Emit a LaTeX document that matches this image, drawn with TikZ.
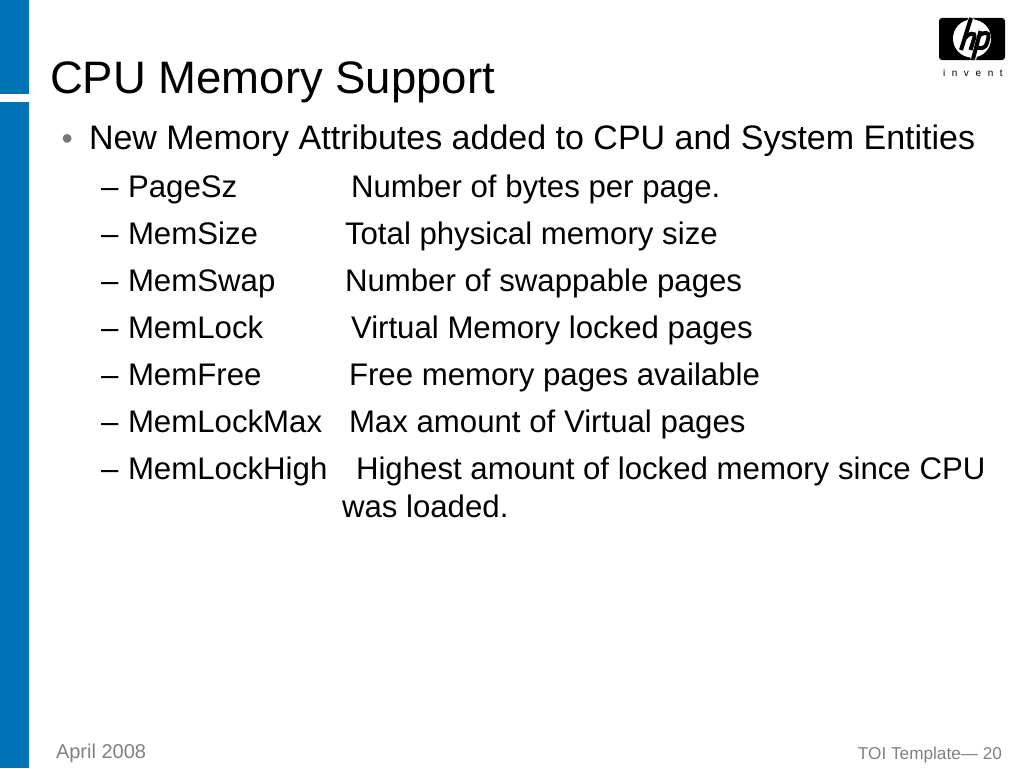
\documentclass[tikz,border=0pt]{standalone}
\usepackage{fontspec}
\setmainfont{Liberation Sans}
\definecolor{hpblue}{RGB}{0,114,182}
\definecolor{footgray}{RGB}{128,128,128}
\definecolor{bulgray}{RGB}{120,120,120}
\tikzset{
  txt/.style={anchor=base west,inner sep=0pt,outer sep=0pt,text=black},
  titletxt/.style={txt,font=\fontsize{45.5}{50}\selectfont},
  lone/.style={txt,font=\fontsize{34}{38}\selectfont},
  ltwo/.style={txt,font=\fontsize{31.2}{34}\selectfont},
  foot/.style={txt,text=footgray},
  hpw/.style={white,line width=6.4pt},
  hpk/.style={black,line width=4pt},
}
\begin{document}
\begin{tikzpicture}[x=1pt,y=-1pt]
\useasboundingbox (0,0) rectangle (1024,768);
\fill[white] (0,0) rectangle (1024,768);
% side bar
\fill[hpblue] (0,0) rectangle (29,94);
\fill[hpblue] (0,102) rectangle (29,768);
% logo
\fill[black,rounded corners=3pt] (939,18) rectangle (1005,60);
\fill[white] (972,38.5) circle (19);
\draw[hpw] (971.5,18) -- (961.5,50);
\draw[hpw] (980.5,31) -- (973,59);
\draw[hpk] (971,18) -- (961,50);
\draw[hpk] (965,38) .. controls (968,33) and (976,32) .. (974.5,37) -- (970.5,50);
\draw[hpk] (980.5,31) -- (973,59);
\draw[hpk] (980,35) .. controls (984,32) and (990,32) .. (988.5,37) -- (987,43) .. controls (986,48) and (981,49) .. (976.5,47.5);
\node[txt,font=\fontsize{10}{10}\selectfont] (inv) at (943,76) {i\hspace{6.6pt}n\hspace{6.6pt}v\hspace{6.6pt}e\hspace{6.6pt}n\hspace{6.6pt}t};
% title
\node[titletxt] (title) at (50,93.5) {CPU Memory Support};
% body
\node[txt,text=bulgray,font=\fontsize{32}{36}\selectfont] (b0) at (61.5,149) {•};
\node[lone] (l0) at (89,149) {New Memory Attributes added to CPU and System Entities};
\foreach \n/\yy/\k/\kx/\v in {
 a/197.5/PageSz/351/{Number of bytes per page.},
 b/244.5/MemSize/345/{Total physical memory size},
 c/291.5/MemSwap/345/{Number of swappable pages},
 d/338.5/MemLock/351/{Virtual Memory locked pages},
 e/385.5/MemFree/349/{Free memory pages available},
 f/432.5/MemLockMax/349/{Max amount of Virtual pages},
 g/479.5/MemLockHigh/356/{Highest amount of locked memory since CPU}}{
  \node[ltwo] (d\n) at (101,\yy) {–};
  \node[ltwo] (k\n) at (128,\yy) {\k};
  \node[ltwo] (v\n) at (\kx,\yy) {\v};
}
\node[ltwo] (v2) at (342,517.5) {was loaded.};
% footer
\node[foot,font=\fontsize{20}{24}\selectfont] (date) at (56,758) {April 2008};
\node[foot,anchor=base east,font=\fontsize{17.2}{20}\selectfont] (tmpl) at (1002,759.5) {TOI Template— 20};
\end{tikzpicture}
\end{document}
